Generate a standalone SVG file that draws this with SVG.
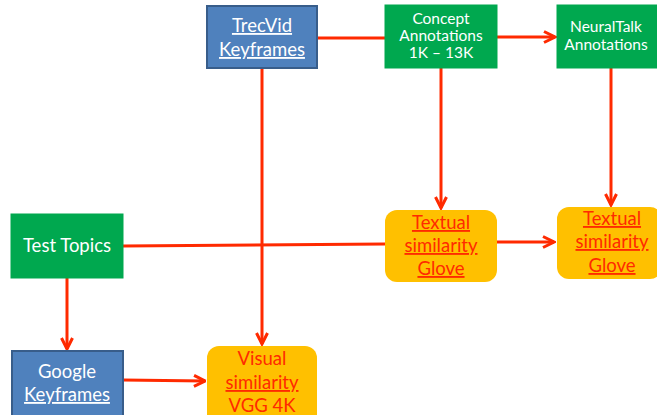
<svg xmlns="http://www.w3.org/2000/svg" width="657" height="415" viewBox="0 0 657 415">
<defs>
<style>
.blue{fill:#4F81BD;stroke:#385D8A;stroke-width:2}
.green{fill:#00A84F;stroke:#00A84F;stroke-width:1}
.orange{fill:#FFC000;stroke:none}
.wt{font-family:Lato,"Open Sans","Liberation Sans",sans-serif;fill:#fff;text-anchor:middle}
.rt{font-family:Lato,"Open Sans","Liberation Sans",sans-serif;fill:#FF2A00;text-anchor:middle;font-size:18.5px}
.u{text-decoration:underline}
.c{stroke:#FF2A00;stroke-width:3;fill:none}
</style>
<marker id="ah" viewBox="0 0 14 14" refX="12.5" refY="7" markerWidth="14" markerHeight="14" markerUnits="userSpaceOnUse" orient="auto">
<path d="M1.5,1.5 L12.5,7 L1.5,12.5" fill="none" stroke="#FF2A00" stroke-width="3"/>
</marker>
</defs>
<rect width="657" height="415" fill="#fff"/>
<g id="connectors">
<path class="c" d="M317,38 L385,38"/>
<path class="c" d="M497,37 L555,37" marker-end="url(#ah)"/>
<path class="c" d="M441,68 L441,208" marker-end="url(#ah)"/>
<path class="c" d="M611,68 L611,205" marker-end="url(#ah)"/>
<path class="c" d="M123,246 L385,244"/>
<path class="c" d="M497,242 L554,242" marker-end="url(#ah)"/>
<path class="c" d="M262,68 L262,344" marker-end="url(#ah)"/>
<path class="c" d="M67,278 L67,349" marker-end="url(#ah)"/>
<path class="c" d="M123,380 L205,381" marker-end="url(#ah)"/>
</g>
<g id="trecvid">
<rect class="blue" x="207" y="6" width="110" height="62"/>
<text class="wt u" x="262" y="32" font-size="18.5">TrecVid</text>
<text class="wt u" x="262" y="56" font-size="18.5">Keyframes</text>
</g>
<g id="concept">
<rect class="green" x="385" y="5" width="112" height="63"/>
<text class="wt" x="441" y="24" font-size="15.5">Concept</text>
<text class="wt" x="441" y="41" font-size="15.5">Annotations</text>
<text class="wt" x="441" y="58" font-size="15.5">1K – 13K</text>
</g>
<g id="neuraltalk">
<rect class="green" x="557" y="5" width="105" height="63"/>
<text class="wt" x="606" y="32" font-size="15.5">NeuralTalk</text>
<text class="wt" x="606" y="50" font-size="15.5">Annotations</text>
</g>
<g id="testtopics">
<rect class="green" x="11" y="214" width="112" height="64"/>
<text class="wt" x="67" y="252" font-size="18.5">Test Topics</text>
</g>
<g id="textual1">
<rect class="orange" x="385" y="210" width="112" height="72" rx="12"/>
<text class="rt u" x="441" y="229">Textual</text>
<text class="rt u" x="441" y="252">similarity</text>
<text class="rt u" x="441" y="275">Glove</text>
</g>
<g id="textual2">
<rect class="orange" x="557" y="207" width="105" height="72" rx="12"/>
<text class="rt u" x="612" y="225">Textual</text>
<text class="rt u" x="612" y="248">similarity</text>
<text class="rt u" x="612" y="272">Glove</text>
</g>
<g id="google">
<rect class="blue" x="12" y="351" width="111" height="66"/>
<text class="wt" x="67" y="378" font-size="18.5">Google</text>
<text class="wt u" x="67" y="401" font-size="18.5">Keyframes</text>
</g>
<g id="visual">
<rect class="orange" x="207" y="346" width="110" height="80" rx="12"/>
<text class="rt" x="262" y="365">Visual</text>
<text class="rt u" x="262" y="389">similarity</text>
<text class="rt" x="262" y="412">VGG 4K</text>
</g>
</svg>
